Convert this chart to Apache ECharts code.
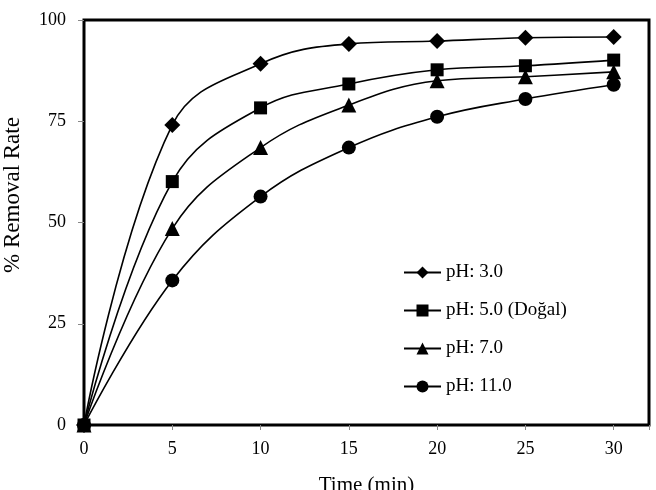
<!DOCTYPE html>
<html>
<head>
<meta charset="utf-8">
<script src="https://cdn.jsdelivr.net/npm/echarts@6/dist/echarts.min.js"></script>
<style>
  html, body { margin: 0; padding: 0; background: #fff; }
  #chart { width: 656px; height: 490px; }
</style>
</head>
<body>
<div id="chart"></div>
<script>
// time (min)
const times = [0, 5, 10, 15, 20, 25, 30];

// % removal for each pH
const ph3 = [0, 74.1, 89.2, 94.1, 94.8, 95.6, 95.8];
const ph5 = [0, 60.1, 78.3, 84.2, 87.7, 88.7, 90.1];
const ph7 = [0, 48.5, 68.5, 79.0, 85.0, 86.0, 87.2];
const ph11 = [0, 35.7, 56.4, 68.5, 76.1, 80.5, 84.0];

const seriesNames = ['pH: 3.0', 'pH: 5.0 (Doğal)', 'pH: 7.0', 'pH: 11.0'];
const symbols = ['diamond', 'rect', 'triangle', 'circle'];
const symbolSizes = [16, 13, 15, 14];

const chart = echarts.init(document.getElementById('chart'));

const font = 'Liberation Serif, Times New Roman, serif';

function pairs(ys) {
  return times.map((t, i) => [t, ys[i]]);
}

const option = {
  backgroundColor: '#fff',
  animation: false,
  grid: {
    left: 84, right: 7, top: 20, bottom: 65,
    outerBoundsMode: 'none',
    containLabel: false,
    show: true,
    borderColor: '#000',
    borderWidth: 3
  },
  xAxis: {
    type: 'value',
    min: 0, max: 32, interval: 5,
    name: 'Time (min)',
    nameLocation: 'middle',
    nameGap: 50,
    nameTextStyle: { fontFamily: font, fontSize: 21, color: '#000' },
    splitLine: { show: false },
    axisLine: { show: false },
    axisTick: { show: true, length: 5, lineStyle: { color: '#888' } },
    axisLabel: {
      fontFamily: font, fontSize: 18, color: '#000', margin: 15,
      formatter: v => (v % 5 === 0 ? String(v) : '')
    }
  },
  yAxis: {
    type: 'value',
    min: 0, max: 100, interval: 25,
    splitLine: { show: false },
    axisLine: { show: false },
    axisTick: { show: true, length: 6, lineStyle: { color: '#888' } },
    axisLabel: { fontFamily: font, fontSize: 18, color: '#000', margin: 18 }
  },
  graphic: [{
    type: 'text',
    x: 13,
    y: 195,
    rotation: Math.PI / 2,
    style: {
      text: '% Removal Rate',
      font: '23px ' + font,
      fill: '#000',
      align: 'center',
      verticalAlign: 'middle'
    }
  }],
  legend: {
    orient: 'vertical',
    left: 398,
    top: 258,
    itemWidth: 37,
    itemHeight: 15,
    itemGap: 19,
    textStyle: { fontFamily: font, fontSize: 19, color: '#000' },
    data: seriesNames
  },
  series: [ph3, ph5, ph7, ph11].map((ys, i) => ({
    name: seriesNames[i],
    type: 'line',
    data: pairs(ys),
    smooth: 0.4,
    clip: false,
    symbol: symbols[i],
    symbolSize: symbolSizes[i],
    lineStyle: { color: '#000', width: 1.6 },
    itemStyle: { color: '#000' }
  }))
};

chart.setOption(option);
</script>
</body>
</html>
